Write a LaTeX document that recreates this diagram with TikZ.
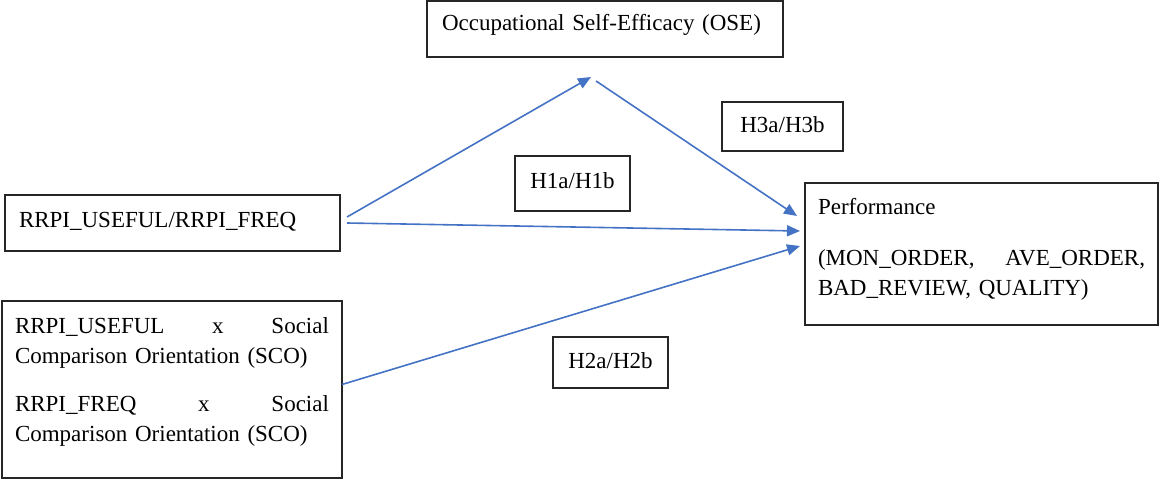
\documentclass[tikz,border=0pt]{standalone}
\usepackage{fontspec}
\setmainfont{Liberation Serif}
\usetikzlibrary{arrows.meta}
\definecolor{linkblue}{HTML}{4472C4}
\tikzset{
  box/.style    = {shape=rectangle, draw=black!85, line width=1.2pt,
                   inner sep=0pt, outer sep=0pt, anchor=north west,
                   font=\fontsize{23}{30}\selectfont},
  varbox/.style = {box, align=left},
  hypbox/.style = {box, align=center, inner xsep=5pt},
  link/.style   = {draw=linkblue, line width=1.6pt,
                   -{Triangle[length=13pt,width=11pt]}}
}
\begin{document}
\begin{tikzpicture}[x=1pt, y=-1pt]
  \useasboundingbox (0,0) rectangle (1161,479);
  \node [varbox, inner xsep=15pt, text width=326pt, text height=29pt, text depth=27pt]
        (ose) at (427,1) {Occupational Self-Efficacy (OSE)};
  \node [varbox, inner xsep=14pt, text width=307pt, text height=32pt, text depth=24pt]
        (rrpi) at (5,195) {RRPI\_USEFUL/RRPI\_FREQ};
  \node [varbox, inner xsep=13pt, text width=314pt, text height=32pt, text depth=145pt]
        (sco) at (2,301) {RRPI\_USEFUL \hfill x \hfill Social\\
                          Comparison Orientation (SCO)\\[18pt]
                          RRPI\_FREQ \hfill x \hfill Social\\
                          Comparison Orientation (SCO)};
  \node [varbox, inner xsep=13pt, text width=327pt, text height=31pt, text depth=111pt]
        (perf) at (805,183) {Performance\\[21pt]
                             (MON\_ORDER, \hfill AVE\_ORDER,\\
                             BAD\_REVIEW, QUALITY)};
  \node [hypbox, text width=105pt, text height=32pt, text depth=23pt]
        (h1) at (515,156) {H1a/H1b};
  \node [hypbox, text width=111pt, text height=30pt, text depth=19pt]
        (h3) at (722,102) {H3a/H3b};
  \node [hypbox, text width=105pt, text height=31pt, text depth=20pt]
        (h2) at (553,337) {H2a/H2b};
  \coordinate (osein)  at (591,77);
  \coordinate (oseout) at (596,81);
  \draw [link] ([xshift=7pt,yshift=6pt]rrpi.east) -- (osein);
  \draw [link] (oseout) -- ([xshift=-8pt,yshift=38pt]perf.west);
  \draw [link] ([xshift=7pt]rrpi.east) -- ([xshift=-5pt,yshift=23pt]perf.west);
  \draw [link] ([yshift=5pt]sco.east) -- ([xshift=-5pt,yshift=8pt]perf.west);
\end{tikzpicture}
\end{document}
